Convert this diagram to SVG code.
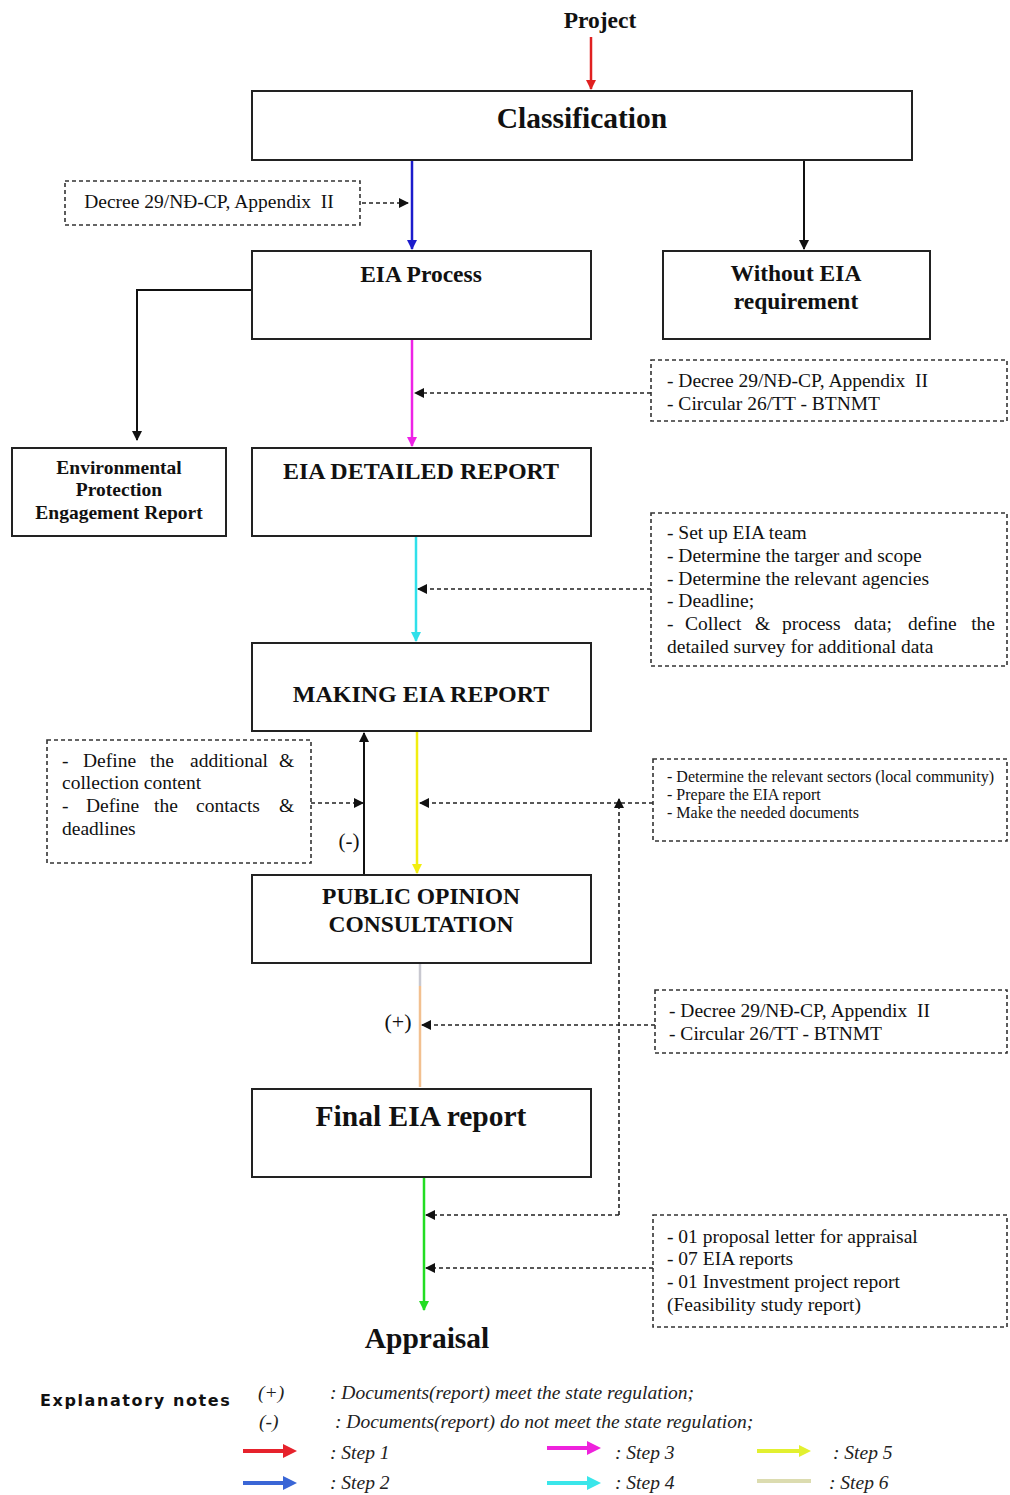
<svg xmlns="http://www.w3.org/2000/svg" width="1010" height="1495" viewBox="0 0 1010 1495">
  <style>
    .box { fill: #ffffff; stroke: #222222; stroke-width: 2; }
    .note { fill: none; stroke: #333333; stroke-width: 1.6; stroke-dasharray: 4 3; }
    .t { font-family: "Liberation Serif", "Times New Roman", serif; fill: #111111; white-space: pre; }
    .b { font-weight: bold; }
    .mid { text-anchor: middle; }
    .n { font-size: 19.5px; }
    .s { font-size: 16px; }
    .dash { fill: none; stroke: #222222; stroke-width: 1.6; stroke-dasharray: 4 3; }
    .solid { fill: none; stroke-width: 2.5; }
    .leg { font-family: "Liberation Serif", "Times New Roman", serif; font-style: italic; font-size: 19.5px; fill: #222222; }
  </style>
  <defs>
    <marker id="ahK" viewBox="0 0 10 10" refX="9" refY="5" markerWidth="10" markerHeight="10" markerUnits="userSpaceOnUse" orient="auto"><path d="M0,0 L10,5 L0,10 z" fill="#111111"/></marker>
    <marker id="ahR" viewBox="0 0 10 10" refX="9" refY="5" markerWidth="10" markerHeight="10" markerUnits="userSpaceOnUse" orient="auto"><path d="M0,0 L10,5 L0,10 z" fill="#e02020"/></marker>
    <marker id="ahB" viewBox="0 0 10 10" refX="9" refY="5" markerWidth="10" markerHeight="10" markerUnits="userSpaceOnUse" orient="auto"><path d="M0,0 L10,5 L0,10 z" fill="#1c1ccc"/></marker>
    <marker id="ahM" viewBox="0 0 10 10" refX="9" refY="5" markerWidth="10" markerHeight="10" markerUnits="userSpaceOnUse" orient="auto"><path d="M0,0 L10,5 L0,10 z" fill="#ee22e6"/></marker>
    <marker id="ahC" viewBox="0 0 10 10" refX="9" refY="5" markerWidth="10" markerHeight="10" markerUnits="userSpaceOnUse" orient="auto"><path d="M0,0 L10,5 L0,10 z" fill="#30e0ea"/></marker>
    <marker id="ahY" viewBox="0 0 10 10" refX="9" refY="5" markerWidth="10" markerHeight="10" markerUnits="userSpaceOnUse" orient="auto"><path d="M0,0 L10,5 L0,10 z" fill="#f2ee10"/></marker>
    <marker id="ahG" viewBox="0 0 10 10" refX="9" refY="5" markerWidth="10" markerHeight="10" markerUnits="userSpaceOnUse" orient="auto"><path d="M0,0 L10,5 L0,10 z" fill="#22dd22"/></marker>
    <marker id="legR" viewBox="0 0 10 10" refX="5" refY="5" markerWidth="14" markerHeight="14" markerUnits="userSpaceOnUse" orient="auto"><path d="M0,0 L10,5 L0,10 z" fill="#e6222c"/></marker>
    <marker id="legB" viewBox="0 0 10 10" refX="5" refY="5" markerWidth="14" markerHeight="14" markerUnits="userSpaceOnUse" orient="auto"><path d="M0,0 L10,5 L0,10 z" fill="#3a66d6"/></marker>
    <marker id="legM" viewBox="0 0 10 10" refX="5" refY="5" markerWidth="14" markerHeight="14" markerUnits="userSpaceOnUse" orient="auto"><path d="M0,0 L10,5 L0,10 z" fill="#ee22dc"/></marker>
    <marker id="legC" viewBox="0 0 10 10" refX="5" refY="5" markerWidth="14" markerHeight="14" markerUnits="userSpaceOnUse" orient="auto"><path d="M0,0 L10,5 L0,10 z" fill="#3ae6ea"/></marker>
    <marker id="legY" viewBox="0 0 10 10" refX="5" refY="5" markerWidth="12" markerHeight="12" markerUnits="userSpaceOnUse" orient="auto"><path d="M0,0 L10,5 L0,10 z" fill="#e2f030"/></marker>
  </defs>

  <rect width="1010" height="1495" fill="#ffffff"/>

  <!-- connectors -->
  <g id="connectors">
    <!-- main flow, coloured by step -->
    <line x1="591" y1="37" x2="591" y2="89" class="solid" stroke="#e02020" marker-end="url(#ahR)"/>
    <line x1="412" y1="161" x2="412" y2="249" class="solid" stroke="#1c1ccc" marker-end="url(#ahB)"/>
    <line x1="804" y1="161" x2="804" y2="249" stroke="#111111" stroke-width="2" marker-end="url(#ahK)"/>
    <line x1="412" y1="340" x2="412" y2="446" class="solid" stroke="#ee22e6" marker-end="url(#ahM)"/>
    <polyline points="251,290 137,290 137,440" fill="none" stroke="#111111" stroke-width="2" marker-end="url(#ahK)"/>
    <line x1="416" y1="537" x2="416" y2="641" class="solid" stroke="#30e0ea" marker-end="url(#ahC)"/>
    <line x1="417" y1="732" x2="417" y2="873" class="solid" stroke="#f2ee10" marker-end="url(#ahY)"/>
    <line x1="364" y1="874" x2="364" y2="733" stroke="#111111" stroke-width="2" marker-end="url(#ahK)"/>
    <line x1="420" y1="964" x2="420" y2="986" stroke="#c8c8d0" stroke-width="2.5"/>
    <line x1="420" y1="986" x2="420" y2="1087" stroke="#f2c090" stroke-width="2.5"/>
    <line x1="424" y1="1178" x2="424" y2="1310" class="solid" stroke="#22dd22" marker-end="url(#ahG)"/>

    <!-- regulation / input references -->
    <line x1="362" y1="203" x2="408" y2="203" class="dash" stroke-dasharray="2 2" marker-end="url(#ahK)"/>
    <line x1="651" y1="393" x2="415" y2="393" class="dash" marker-end="url(#ahK)"/>
    <line x1="651" y1="589" x2="418" y2="589" class="dash" marker-end="url(#ahK)"/>
    <line x1="653" y1="803" x2="420" y2="803" class="dash" marker-end="url(#ahK)"/>
    <line x1="311" y1="803" x2="363" y2="803" class="dash" marker-end="url(#ahK)"/>
    <line x1="655" y1="1025" x2="422" y2="1025" class="dash" marker-end="url(#ahK)"/>
    <polyline points="619,1215 426,1215" class="dash" marker-end="url(#ahK)"/>
    <line x1="619" y1="1215" x2="619" y2="799" class="dash" marker-end="url(#ahK)"/>
    <line x1="653" y1="1268" x2="426" y2="1268" class="dash" marker-end="url(#ahK)"/>
  </g>

  <!-- title -->
  <g id="project">
    <text x="600" y="28" class="t b mid" font-size="23.5">Project</text>
  </g>

  <g id="classification">
    <rect x="252" y="91" width="660" height="69" class="box"/>
    <text x="582" y="128" class="t b mid" font-size="29.5">Classification</text>
  </g>

  <g id="note-decree-a">
    <rect x="65" y="181" width="295" height="44" class="note"/>
    <text x="209" y="208" class="t n mid" xml:space="preserve">Decree 29/NĐ-CP, Appendix  II</text>
  </g>

  <g id="eia-process">
    <rect x="252" y="251" width="339" height="88" class="box"/>
    <text x="421" y="282" class="t b mid" font-size="23.5">EIA Process</text>
  </g>

  <g id="without-eia">
    <rect x="663" y="251" width="267" height="88" class="box"/>
    <text x="796" y="281" class="t b mid" font-size="23.5">Without EIA</text>
    <text x="796" y="309" class="t b mid" font-size="23.5">requirement</text>
  </g>

  <g id="note-decree-b">
    <rect x="651" y="360" width="356" height="61" class="note"/>
    <text x="667" y="387" class="t n" xml:space="preserve">- Decree 29/NĐ-CP, Appendix  II</text>
    <text x="667" y="410" class="t n">- Circular 26/TT - BTNMT</text>
  </g>

  <g id="env-protection">
    <rect x="12" y="448" width="214" height="88" class="box"/>
    <text x="119" y="474" class="t b mid" font-size="19.5">Environmental</text>
    <text x="119" y="496" class="t b mid" font-size="19.5">Protection</text>
    <text x="119" y="519" class="t b mid" font-size="19.5">Engagement Report</text>
  </g>

  <g id="eia-detailed">
    <rect x="252" y="448" width="339" height="88" class="box"/>
    <text x="421" y="479" class="t b mid" font-size="24">EIA DETAILED REPORT</text>
  </g>

  <g id="note-team">
    <rect x="651" y="513" width="356" height="153" class="note"/>
    <text x="667" y="539" class="t n">- Set up EIA team</text>
    <text x="667" y="562" class="t n">- Determine the targer and scope</text>
    <text x="667" y="585" class="t n">- Determine the relevant agencies</text>
    <text x="667" y="607" class="t n">- Deadline;</text>
    <text y="630" class="t n"><tspan x="667">-</tspan><tspan x="685">Collect</tspan><tspan x="755">&amp;</tspan><tspan x="782">process</tspan><tspan x="854">data;</tspan><tspan x="908">define</tspan></text>
    <text x="995" y="630" class="t n" text-anchor="end">the</text>
    <text x="667" y="653" class="t n">detailed survey for additional data</text>
  </g>

  <g id="making-eia">
    <rect x="252" y="643" width="339" height="88" class="box"/>
    <text x="421" y="702" class="t b mid" font-size="24">MAKING EIA REPORT</text>
  </g>

  <g id="note-define">
    <rect x="47" y="740" width="264" height="123" class="note"/>
    <text y="767" class="t n"><tspan x="62">-</tspan><tspan x="83">Define</tspan><tspan x="150">the</tspan><tspan x="190">additional</tspan><tspan x="279">&amp;</tspan></text>
    <text x="62" y="789" class="t n">collection content</text>
    <text y="812" class="t n"><tspan x="62">-</tspan><tspan x="86">Define</tspan><tspan x="154">the</tspan><tspan x="196">contacts</tspan><tspan x="279">&amp;</tspan></text>
    <text x="62" y="835" class="t n">deadlines</text>
  </g>

  <g id="label-minus">
    <text x="349" y="848" class="t mid" font-size="21">(-)</text>
  </g>

  <g id="note-sectors">
    <rect x="653" y="759" width="354" height="82" class="note"/>
    <text x="667" y="782" class="t s">- Determine the relevant sectors (local community)</text>
    <text x="667" y="800" class="t s">- Prepare the EIA report</text>
    <text x="667" y="818" class="t s">- Make the needed documents</text>
  </g>

  <g id="public-opinion">
    <rect x="252" y="875" width="339" height="88" class="box"/>
    <text x="421" y="904" class="t b mid" font-size="23.5">PUBLIC OPINION</text>
    <text x="421" y="932" class="t b mid" font-size="23.5">CONSULTATION</text>
  </g>

  <g id="label-plus">
    <text x="398" y="1029" class="t mid" font-size="22">(+)</text>
  </g>

  <g id="note-decree-c">
    <rect x="655" y="990" width="352" height="63" class="note"/>
    <text x="669" y="1017" class="t n" xml:space="preserve">- Decree 29/NĐ-CP, Appendix  II</text>
    <text x="669" y="1040" class="t n">- Circular 26/TT - BTNMT</text>
  </g>

  <g id="final-eia">
    <rect x="252" y="1089" width="339" height="88" class="box"/>
    <text x="421" y="1126" class="t b mid" font-size="29.5">Final EIA report</text>
  </g>

  <g id="note-dossier">
    <rect x="653" y="1215" width="354" height="112" class="note"/>
    <text x="667" y="1243" class="t n">- 01 proposal letter for appraisal</text>
    <text x="667" y="1265" class="t n">- 07 EIA reports</text>
    <text x="667" y="1288" class="t n">- 01 Investment project report</text>
    <text x="667" y="1311" class="t n">(Feasibility study report)</text>
  </g>

  <g id="appraisal">
    <text x="427" y="1348" class="t b mid" font-size="29.5">Appraisal</text>
  </g>

  <!-- legend -->
  <g id="legend">
    <text x="40" y="1406" font-family="'DejaVu Sans', sans-serif" font-weight="bold" font-size="16" letter-spacing="1.6" fill="#111111">Explanatory notes</text>
    <text x="258" y="1399" class="leg">(+)</text>
    <text x="330" y="1399" class="leg">: Documents(report) meet the state regulation;</text>
    <text x="259" y="1428" class="leg">(-)</text>
    <text x="335" y="1428" class="leg">: Documents(report) do not meet the state regulation;</text>

    <line x1="243" y1="1451" x2="290" y2="1451" stroke="#e6222c" stroke-width="4" marker-end="url(#legR)"/>
    <line x1="243" y1="1483" x2="290" y2="1483" stroke="#3a66d6" stroke-width="4" marker-end="url(#legB)"/>
    <line x1="547" y1="1448" x2="594" y2="1448" stroke="#ee22dc" stroke-width="4" marker-end="url(#legM)"/>
    <line x1="547" y1="1483" x2="594" y2="1483" stroke="#3ae6ea" stroke-width="4" marker-end="url(#legC)"/>
    <line x1="757" y1="1451" x2="805" y2="1451" stroke="#e2f030" stroke-width="4" marker-end="url(#legY)"/>
    <line x1="757" y1="1481" x2="811" y2="1481" stroke="#dcdcb0" stroke-width="4"/>

    <text x="330" y="1459" class="leg">: Step 1</text>
    <text x="330" y="1489" class="leg">: Step 2</text>
    <text x="615" y="1459" class="leg">: Step 3</text>
    <text x="615" y="1489" class="leg">: Step 4</text>
    <text x="833" y="1459" class="leg">: Step 5</text>
    <text x="829" y="1489" class="leg">: Step 6</text>
  </g>
</svg>
